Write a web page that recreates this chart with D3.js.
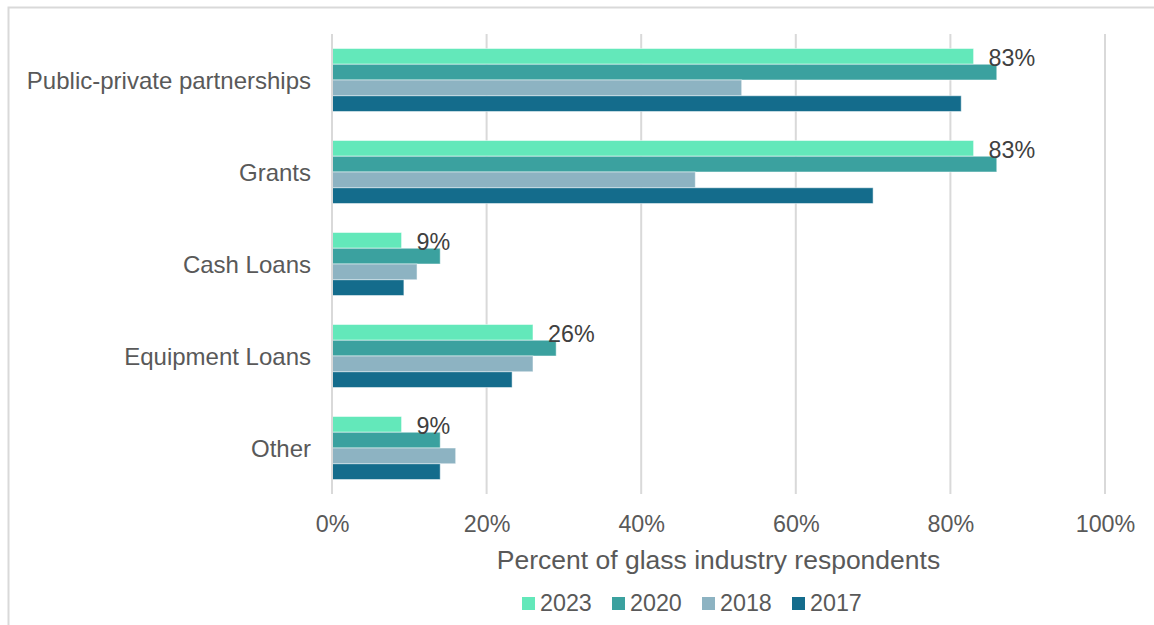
<!DOCTYPE html>
<html>
<head>
<meta charset="utf-8">
<script src="https://cdn.jsdelivr.net/npm/d3@7"></script>
<style>
  html, body { margin: 0; padding: 0; background: #ffffff; }
  svg { display: block; font-family: Arial, "Liberation Sans", sans-serif; }
</style>
</head>
<body>
<svg id="chart" width="1154" height="625"></svg>
<script>
// Funding sources, top to bottom
const categories = ["Public-private partnerships", "Grants", "Cash Loans", "Equipment Loans", "Other"];
// Survey years, drawn top to bottom within each group
const years = ["2023", "2020", "2018", "2017"];
// Percent of respondents per funding source, one array per year
const values2023 = [83, 83, 9, 26, 9];
const values2020 = [86, 86, 14, 29, 14];
const values2018 = [53, 47, 11, 26, 16];
const values2017 = [81.4, 70, 9.3, 23.3, 14];
const seriesColors = ["#63E8BA", "#3BA19F", "#8DB3C2", "#146C8C"];
const xTicks = [0, 20, 40, 60, 80, 100];
const xTitle = "Percent of glass industry respondents";

const seriesValues = [values2023, values2020, values2018, values2017];
const rows = categories.map((c, i) => ({
  category: c,
  bars: years.map((y, j) => ({ year: y, value: seriesValues[j][i] }))
}));

const svg = d3.select("#chart");
const textColor = "#595959";
const gridColor = "#d9d9d9";

// Outer chart frame
svg.append("rect")
  .attr("x", 8.5).attr("y", 7.5)
  .attr("width", 1200).attr("height", 700)
  .attr("fill", "none")
  .attr("stroke", gridColor)
  .attr("stroke-width", 2);

const plotLeft = 332, plotRight = 1105, plotTop = 34, plotBottom = 494;

const x = d3.scaleLinear().domain([0, 100]).range([plotLeft, plotRight]);
const y0 = d3.scaleBand().domain(categories).range([plotTop, plotBottom])
  .paddingInner(0.315).paddingOuter(0.1575);
const y1 = d3.scaleBand().domain(years).range([0, y0.bandwidth()]);
const color = d3.scaleOrdinal().domain(years).range(seriesColors);

// Vertical gridlines
svg.append("g").selectAll("line")
  .data(xTicks)
  .join("line")
  .attr("x1", d => x(d)).attr("x2", d => x(d))
  .attr("y1", plotTop).attr("y2", plotBottom)
  .attr("stroke", gridColor)
  .attr("stroke-width", 2);

// Bottom axis tick labels
const xAxis = d3.axisBottom(x).tickValues(xTicks).tickFormat(d => d + "%").tickSize(0).tickPadding(0);
const gx = svg.append("g").attr("transform", `translate(0,${plotBottom})`).call(xAxis);
gx.select(".domain").remove();
gx.selectAll("text")
  .attr("y", 38)
  .attr("dy", null)
  .attr("fill", textColor)
  .style("font-size", "23.3px");

// Category labels
const yAxis = d3.axisLeft(y0).tickSize(0).tickPadding(21);
const gy = svg.append("g").attr("transform", `translate(${plotLeft},0)`).call(yAxis);
gy.select(".domain").remove();
gy.selectAll("text")
  .attr("fill", textColor)
  .attr("dy", "0.36em")
  .style("font-size", "24px");

// Bars
const groups = svg.append("g").selectAll("g")
  .data(rows)
  .join("g")
  .attr("transform", d => `translate(0,${y0(d.category)})`);

groups.selectAll("rect")
  .data(d => d.bars)
  .join("rect")
  .attr("x", x(0))
  .attr("y", d => y1(d.year))
  .attr("width", d => x(d.value) - x(0))
  .attr("height", y1.bandwidth())
  .attr("fill", d => color(d.year))
  .attr("stroke", "#ffffff")
  .attr("stroke-opacity", 0.5)
  .attr("stroke-width", 1);

// Value labels on the 2023 bars
groups.append("text")
  .datum(d => d.bars[0])
  .attr("x", d => x(d.value) + 15)
  .attr("y", d => y1(d.year) + y1.bandwidth() / 2 + 1)
  .attr("dy", "0.36em")
  .attr("fill", "#404040")
  .style("font-size", "23.3px")
  .text(d => Math.round(d.value) + "%");

// Vertical axis line
svg.append("line")
  .attr("x1", plotLeft).attr("x2", plotLeft)
  .attr("y1", plotTop).attr("y2", plotBottom)
  .attr("stroke", gridColor)
  .attr("stroke-width", 2);

// Axis title
svg.append("text")
  .attr("x", (plotLeft + plotRight) / 2)
  .attr("y", 569)
  .attr("text-anchor", "middle")
  .attr("fill", textColor)
  .style("font-size", "26.5px")
  .text(xTitle);

// Legend
const legend = svg.append("g").selectAll("g")
  .data(years)
  .join("g")
  .attr("transform", (d, i) => `translate(${522 + i * 90},0)`);
legend.append("rect")
  .attr("x", 0).attr("y", 597)
  .attr("width", 13).attr("height", 13)
  .attr("fill", d => color(d));
legend.append("text")
  .attr("x", 18).attr("y", 611)
  .attr("fill", textColor)
  .style("font-size", "23.3px")
  .text(d => d);
</script>
</body>
</html>
